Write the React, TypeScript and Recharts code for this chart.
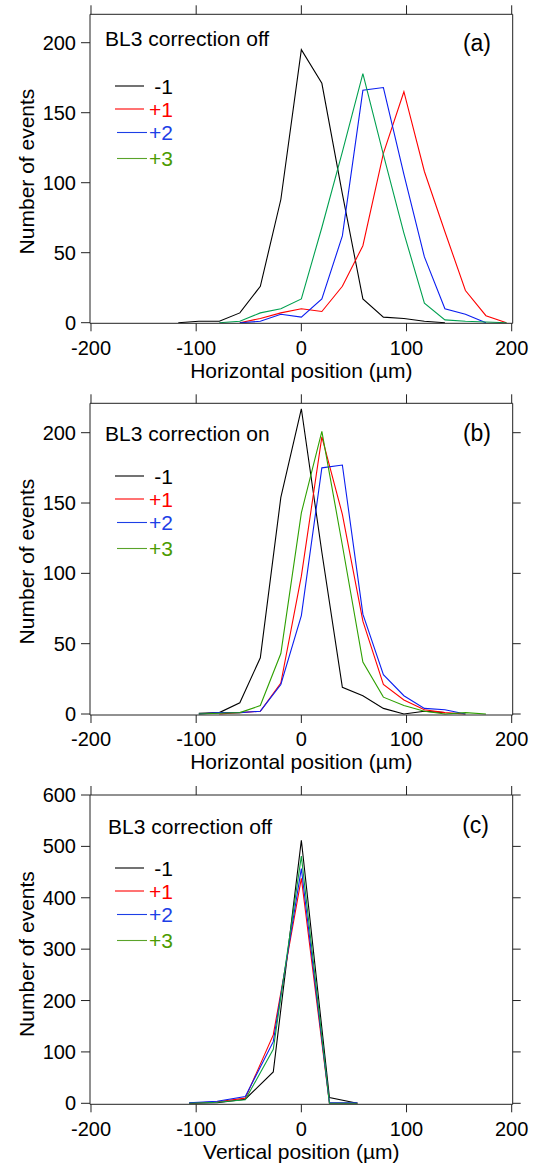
import React from 'react';
import { LineChart, Line, XAxis, YAxis } from 'recharts';

const FONT = '"Liberation Sans", Arial, Helvetica, sans-serif';

// ---------- shared axis ticks ----------
const xTicks = [-200, -100, 0, 100, 200];
const yTicksAB = [0, 50, 100, 150, 200];
const yTicksC = [0, 100, 200, 300, 400, 500, 600];

const seriesNames = ['-1', '+1', '+2', '+3'];

// ---------- panel (a): BL3 correction off, horizontal ----------
const aBlackX = [-117, -97.5, -78, -58.5, -39, -19.5, 0, 19.5, 39, 58.5, 78, 97.5, 117, 136.5];
const aBlackY = [0, 1, 1, 7, 26, 88, 195, 171, 92, 17, 4, 3, 1, 0];
const aRedX = [-58.5, -39, -19.5, 0, 19.5, 39, 58.5, 78, 97.5, 117, 136.5, 156, 175.5, 195];
const aRedY = [0, 3, 7, 10, 8, 26, 55, 121, 165, 108, 65, 23, 5, 0];
const aBlueX = [-58.5, -39, -19.5, 0, 19.5, 39, 58.5, 78, 97.5, 117, 136.5, 156, 175.5];
const aBlueY = [0, 1, 6, 4, 17, 62, 166, 168, 106, 47, 10, 6, 0];
const aGreenX = [-78, -58.5, -39, -19.5, 0, 19.5, 39, 58.5, 78, 97.5, 117, 136.5, 156, 175.5, 195];
const aGreenY = [0, 1, 7, 10, 17, 68, 122, 178, 120, 64, 14, 2, 1, 0.5, 0];

// ---------- panel (b): BL3 correction on, horizontal ----------
const bBlackX = [-97.5, -78, -58.5, -39, -19.5, 0, 19.5, 39, 58.5, 78, 97.5, 117, 136.5];
const bBlackY = [0.5, 1, 8, 40, 154, 217, 115, 19, 13, 4, 0, 2, 1];
const bRedX = [-78, -58.5, -39, -19.5, 0, 19.5, 39, 58.5, 78, 97.5, 117, 136.5, 156];
const bRedY = [0, 1, 2, 22, 98, 197, 142, 66, 21, 10, 3, 1, 0];
const bBlueX = [-97.5, -78, -58.5, -39, -19.5, 0, 19.5, 39, 58.5, 78, 97.5, 117, 136.5, 156];
const bBlueY = [0, 1, 1, 2, 21, 70, 175, 177, 71, 28, 13, 4, 3, 0];
const bGreenX = [-97.5, -78, -58.5, -39, -19.5, 0, 19.5, 39, 58.5, 78, 97.5, 117, 136.5, 156, 175.5];
const bGreenY = [0, 0.5, 1, 6, 43, 143, 201, 120, 37, 12, 6, 2, 0, 1, 0];

// ---------- panel (c): BL3 correction off, vertical ----------
const cX = [-106.7, -80, -53.3, -26.7, 0, 26.7, 53.3];
const cBlackY = [0, 1, 8, 61, 512, 11, 0];
const cRedY = [0, 3, 10, 133, 438, 0, 0];
const cBlueY = [1, 4, 13, 120, 457, 1, 1];
const cGreenY = [0, 2, 7, 105, 481, 0, 0];

const zip = (xs: number[], ys: number[]) => xs.map((x, i) => ({ x, y: ys[i] }));

const AXIS = '#222';
const BLACK = '#000000';
const RED = '#ff0000';
const BLUE = '#0a1ef0';
const LEG_BLUE = '#1d3fe6';
const LEG_GREEN = '#4b9b00';
const LEG_GREEN_LINE = '#5aa32a';

const X_DOMAIN: [number, number] = [-200.95, 200.95];

type Series = { data: { x: number; y: number }[]; color: string };

function Panel(props: {
  top: number;
  height: number;
  margin: { top: number; right: number; bottom: number; left: number };
  yDomain: [number, number];
  yTicks: number[];
  rightTicks: boolean;
  series: Series[];
}) {
  const { top, height, margin, yDomain, yTicks, rightTicks, series } = props;
  const tickStyle = { fill: '#000', fontSize: 20, fontFamily: FONT };
  return (
    <div style={{ position: 'absolute', left: 0, top, width: 537, height }}>
      <LineChart width={537} height={height} margin={margin}>
        <XAxis
          xAxisId="b"
          type="number"
          dataKey="x"
          orientation="bottom"
          domain={X_DOMAIN}
          ticks={xTicks}
          interval={0}
          allowDataOverflow
          height={30}
          stroke={AXIS}
          tickSize={8}
          tickMargin={9}
          tick={tickStyle}
        />
        <XAxis
          xAxisId="t"
          type="number"
          dataKey="x"
          orientation="top"
          domain={X_DOMAIN}
          ticks={xTicks}
          interval={0}
          allowDataOverflow
          height={10}
          stroke={AXIS}
          tickSize={9}
          tickFormatter={() => ''}
        />
        <YAxis
          yAxisId="l"
          type="number"
          orientation="left"
          domain={yDomain}
          ticks={yTicks}
          interval={0}
          allowDataOverflow
          width={60}
          stroke={AXIS}
          tickSize={9}
          tickMargin={5}
          tick={tickStyle}
        />
        <YAxis
          yAxisId="r"
          type="number"
          orientation="right"
          domain={yDomain}
          ticks={yTicks}
          interval={0}
          allowDataOverflow
          width={10}
          stroke={AXIS}
          tickSize={8}
          tickLine={rightTicks}
          tickFormatter={() => ''}
        />
        {series.map((s, i) => (
          <Line
            key={i}
            xAxisId="b"
            yAxisId="l"
            data={s.data}
            dataKey="y"
            type="linear"
            stroke={s.color}
            strokeWidth={1.1}
            dot={false}
            activeDot={false}
            isAnimationActive={false}
          />
        ))}
      </LineChart>
    </div>
  );
}

const legendText = [BLACK, RED, LEG_BLUE, LEG_GREEN];
const legendLine = [BLACK, RED, LEG_BLUE, LEG_GREEN_LINE];

function Legend(props: { rows: number[] }) {
  return (
    <g>
      {props.rows.map((y, i) => (
        <g key={i}>
          <line
            x1={i < 2 ? 115 : 117}
            x2={i < 2 ? 144 : 147}
            y1={y}
            y2={y}
            stroke={legendLine[i]}
            strokeWidth={1.1}
          />
          <text x={173} y={y + 7.5} textAnchor="end" fontSize={21} fill={legendText[i]} fontFamily={FONT}>
            {seriesNames[i]}
          </text>
        </g>
      ))}
    </g>
  );
}

export default function App() {
  return (
    <div
      style={{
        position: 'absolute',
        left: 0,
        top: 0,
        width: 537,
        height: 1163,
        background: '#fff',
        fontFamily: FONT,
        overflow: 'hidden',
      }}
    >
      <Panel
        top={0}
        height={390}
        margin={{ top: 4.3, right: 14.3, bottom: 36.7, left: 30 }}
        yDomain={[-0.43, 220.3]}
        yTicks={yTicksAB}
        rightTicks={false}
        series={[
          { data: zip(aBlackX, aBlackY), color: BLACK },
          { data: zip(aRedX, aRedY), color: RED },
          { data: zip(aBlueX, aBlueY), color: BLUE },
          { data: zip(aGreenX, aGreenY), color: '#00a050' },
        ]}
      />
      <Panel
        top={390}
        height={390}
        margin={{ top: 3.3, right: 14.3, bottom: 35, left: 30 }}
        yDomain={[-0.7, 220.9]}
        yTicks={yTicksAB}
        rightTicks={true}
        series={[
          { data: zip(bBlackX, bBlackY), color: BLACK },
          { data: zip(bRedX, bRedY), color: RED },
          { data: zip(bBlueX, bBlueY), color: BLUE },
          { data: zip(bGreenX, bGreenY), color: '#2ea000' },
        ]}
      />
      <Panel
        top={780}
        height={383}
        margin={{ top: 5, right: 14.3, bottom: 28.7, left: 30 }}
        yDomain={[-1.95, 600]}
        yTicks={yTicksC}
        rightTicks={true}
        series={[
          { data: zip(cX, cBlackY), color: BLACK },
          { data: zip(cX, cRedY), color: RED },
          { data: zip(cX, cBlueY), color: BLUE },
          { data: zip(cX, cGreenY), color: '#10a040' },
        ]}
      />
      <svg
        width={537}
        height={1163}
        style={{ position: 'absolute', left: 0, top: 0, pointerEvents: 'none' }}
        fontFamily={FONT}
      >
        {/* panel (a) */}
        <text x={105} y={46} fontSize={21} fill="#000">BL3 correction off</text>
        <text x={491} y={50.5} fontSize={23} fill="#000" textAnchor="end">(a)</text>
        <Legend rows={[86, 109, 132.5, 158.5]} />
        <text transform="translate(34,171.5) rotate(-90)" textAnchor="middle" fontSize={21} fill="#000">
          Number of events
        </text>
        <text x={301.3} y={377.5} textAnchor="middle" fontSize={21} fill="#000">
          Horizontal position (µm)
        </text>

        {/* panel (b) */}
        <text x={105} y={441} fontSize={21} fill="#000">BL3 correction on</text>
        <text x={491} y={440.6} fontSize={23} fill="#000" textAnchor="end">(b)</text>
        <Legend rows={[476, 499, 522.5, 548.5]} />
        <text transform="translate(34,561.5) rotate(-90)" textAnchor="middle" fontSize={21} fill="#000">
          Number of events
        </text>
        <text x={301.3} y={769} textAnchor="middle" fontSize={21} fill="#000">
          Horizontal position (µm)
        </text>

        {/* panel (c) */}
        <text x={108} y={834} fontSize={21} fill="#000">BL3 correction off</text>
        <text x={489} y={833} fontSize={23} fill="#000" textAnchor="end">(c)</text>
        <Legend rows={[868, 891, 914.5, 940.5]} />
        <text transform="translate(34,954) rotate(-90)" textAnchor="middle" fontSize={21} fill="#000">
          Number of events
        </text>
        <text x={301.3} y={1158.5} textAnchor="middle" fontSize={21} fill="#000">
          Vertical position (µm)
        </text>
      </svg>
    </div>
  );
}
